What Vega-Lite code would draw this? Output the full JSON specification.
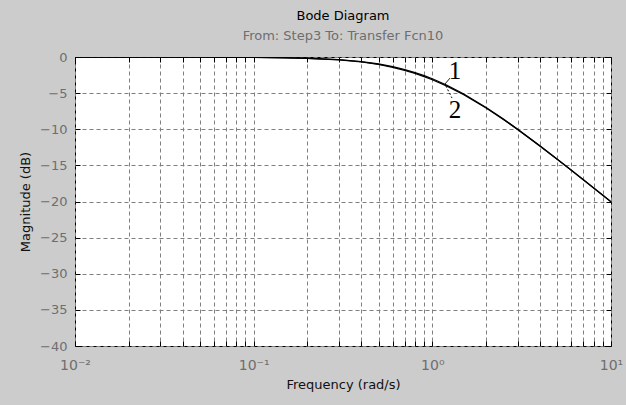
{
  "$schema": "https://vega.github.io/schema/vega-lite/v6.json",
  "width": 536,
  "height": 289,
  "autosize": {"type": "none"},
  "padding": {"left": 75, "top": 57, "right": 15, "bottom": 59},
  "background": "#cccccc",
  "title": {
    "text": "Bode Diagram",
    "subtitle": "From: Step3  To: Transfer Fcn10",
    "anchor": "middle",
    "frame": "group",
    "font": "DejaVu Sans",
    "fontSize": 13,
    "fontWeight": "normal",
    "color": "#000000",
    "subtitleFont": "DejaVu Sans",
    "subtitleFontSize": 13,
    "subtitleColor": "#6e6e6e",
    "subtitlePadding": 7,
    "offset": 8
  },
  "config": {
    "view": {"fill": "white", "stroke": "black", "strokeWidth": 1},
    "axis": {
      "labelFont": "DejaVu Sans",
      "titleFont": "DejaVu Sans",
      "labelFontSize": 13,
      "titleFontSize": 13,
      "titleFontWeight": "normal",
      "labelColor": "#6e6e6e",
      "titleColor": "#111111",
      "domain": false,
      "gridColor": "#808080",
      "gridDash": [4, 3],
      "gridWidth": 1,
      "gridOpacity": 1,
      "tickColor": "#000000",
      "tickSize": -5
    }
  },
  "datasets": {
    "curves": [
      {"w": 0.01, "db": -0.0004, "c": "1"},
      {"w": 0.02, "db": -0.0017, "c": "1"},
      {"w": 0.05, "db": -0.011, "c": "1"},
      {"w": 0.1, "db": -0.043, "c": "1"},
      {"w": 0.15, "db": -0.097, "c": "1"},
      {"w": 0.2, "db": -0.17, "c": "1"},
      {"w": 0.3, "db": -0.374, "c": "1"},
      {"w": 0.4, "db": -0.645, "c": "1"},
      {"w": 0.5, "db": -0.969, "c": "1"},
      {"w": 0.6, "db": -1.335, "c": "1"},
      {"w": 0.7, "db": -1.734, "c": "1"},
      {"w": 0.8, "db": -2.148, "c": "1"},
      {"w": 0.9, "db": -2.577, "c": "1"},
      {"w": 1.0, "db": -3.01, "c": "1"},
      {"w": 1.2, "db": -3.874, "c": "1"},
      {"w": 1.5, "db": -5.119, "c": "1"},
      {"w": 2, "db": -6.99, "c": "1"},
      {"w": 2.5, "db": -8.603, "c": "1"},
      {"w": 3, "db": -10.0, "c": "1"},
      {"w": 4, "db": -12.304, "c": "1"},
      {"w": 5, "db": -14.15, "c": "1"},
      {"w": 6, "db": -15.682, "c": "1"},
      {"w": 7, "db": -16.99, "c": "1"},
      {"w": 8, "db": -18.129, "c": "1"},
      {"w": 9, "db": -19.138, "c": "1"},
      {"w": 10, "db": -20.043, "c": "1"},
      {"w": 0.01, "db": -0.0004, "c": "2"},
      {"w": 0.05, "db": -0.012, "c": "2"},
      {"w": 0.1, "db": -0.045, "c": "2"},
      {"w": 0.2, "db": -0.18, "c": "2"},
      {"w": 0.3, "db": -0.39, "c": "2"},
      {"w": 0.4, "db": -0.68, "c": "2"},
      {"w": 0.5, "db": -1.03, "c": "2"},
      {"w": 0.6, "db": -1.42, "c": "2"},
      {"w": 0.7, "db": -1.84, "c": "2"},
      {"w": 0.8, "db": -2.27, "c": "2"},
      {"w": 0.9, "db": -2.71, "c": "2"},
      {"w": 1.0, "db": -3.15, "c": "2"},
      {"w": 1.2, "db": -4.0, "c": "2"},
      {"w": 1.5, "db": -5.22, "c": "2"},
      {"w": 2, "db": -7.05, "c": "2"},
      {"w": 2.5, "db": -8.64, "c": "2"},
      {"w": 3, "db": -10.02, "c": "2"},
      {"w": 4, "db": -12.31, "c": "2"},
      {"w": 5, "db": -14.15, "c": "2"},
      {"w": 6, "db": -15.68, "c": "2"},
      {"w": 7, "db": -16.99, "c": "2"},
      {"w": 8, "db": -18.13, "c": "2"},
      {"w": 9, "db": -19.14, "c": "2"},
      {"w": 10, "db": -20.043, "c": "2"}
    ],
    "leaders": [
      {"w": 1.177, "db": -3.74, "w2": 1.256, "db2": -2.91, "k": "1"},
      {"w": 1.19, "db": -4.0, "w2": 1.288, "db2": -5.67, "k": "2"}
    ],
    "labels": [
      {"w": 1.34, "db": -1.9, "t": "1"},
      {"w": 1.34, "db": -7.3, "t": "2"}
    ]
  },
  "layer": [
    {
      "data": {"name": "curves"},
      "mark": {"type": "line", "color": "black", "strokeWidth": 1.3, "clip": true},
      "encoding": {
        "x": {
          "field": "w", "type": "quantitative",
          "scale": {"type": "log", "domain": [0.01, 10], "nice": false},
          "axis": {
            "title": "Frequency  (rad/s)",
            "values": [0.01,0.02,0.03,0.04,0.05,0.06,0.07,0.08,0.09,0.1,0.2,0.3,0.4,0.5,0.6,0.7,0.8,0.9,1,2,3,4,5,6,7,8,9,10],
            "labelExpr": "datum.value == 0.01 ? '10⁻²' : datum.value == 0.1 ? '10⁻¹' : datum.value == 1 ? '10⁰' : datum.value == 10 ? '10¹' : ''",
            "labelPadding": 17,
            "labelFontSize": 14,
            "titlePadding": 6,
            "labelFlush": false
          }
        },
        "y": {
          "field": "db", "type": "quantitative",
          "scale": {"domain": [-40, 0], "nice": false},
          "axis": {
            "title": "Magnitude (dB)",
            "values": [-40,-35,-30,-25,-20,-15,-10,-5,0],
            "labelPadding": 13,
            "titlePadding": 7,
            "labelFlush": false
          }
        },
        "detail": {"field": "c"}
      }
    },
    {
      "data": {"name": "leaders"},
      "mark": {"type": "rule", "color": "black", "strokeWidth": 1},
      "encoding": {
        "x": {"field": "w", "type": "quantitative", "axis": null},
        "x2": {"field": "w2"},
        "y": {"field": "db", "type": "quantitative", "axis": null},
        "y2": {"field": "db2"},
        "strokeDash": {"field": "k", "type": "nominal", "scale": {"domain": ["1", "2"], "range": [[1, 0], [2, 2]]}, "legend": null}
      }
    },
    {
      "data": {"name": "labels"},
      "mark": {"type": "text", "font": "Liberation Serif", "fontSize": 25, "color": "black", "align": "center", "baseline": "middle"},
      "encoding": {
        "x": {
          "field": "w", "type": "quantitative",
          "axis": {
            "orient": "top", "title": null, "labels": false, "grid": false,
            "values": [0.01,0.02,0.03,0.04,0.05,0.06,0.07,0.08,0.09,0.1,0.2,0.3,0.4,0.5,0.6,0.7,0.8,0.9,1,2,3,4,5,6,7,8,9,10]
          }
        },
        "y": {
          "field": "db", "type": "quantitative",
          "axis": {
            "orient": "right", "title": null, "labels": false, "grid": false,
            "values": [-40,-35,-30,-25,-20,-15,-10,-5,0]
          }
        },
        "text": {"field": "t"}
      }
    }
  ],
  "resolve": {"axis": {"x": "independent", "y": "independent"}}
}
